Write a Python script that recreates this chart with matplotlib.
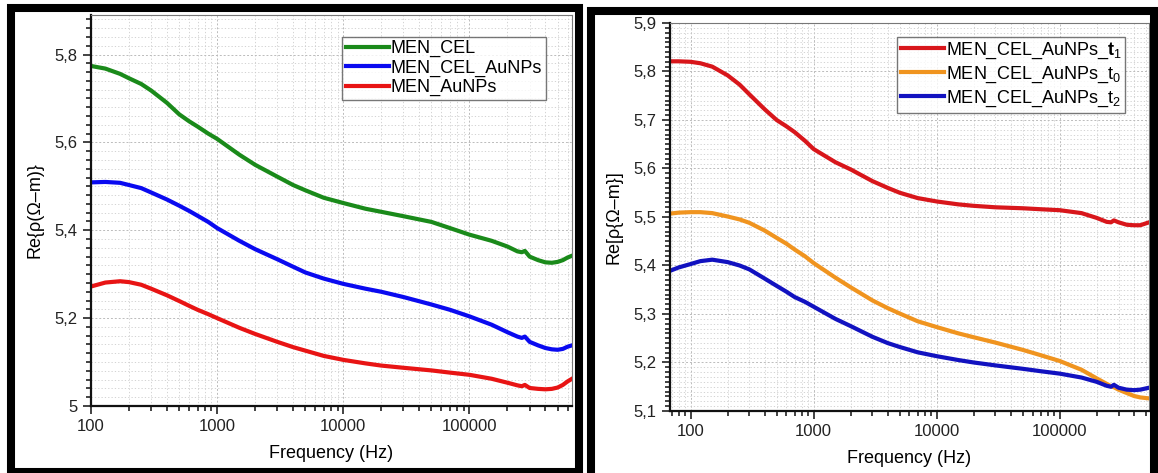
import numpy as np
import matplotlib
matplotlib.use('Agg')
import matplotlib.pyplot as plt
from matplotlib.patches import Rectangle
from matplotlib.ticker import FuncFormatter, MultipleLocator, LogLocator, NullFormatter

plt.rcParams['font.family'] = ['Liberation Sans', 'DejaVu Sans']
plt.rcParams['mathtext.fontset'] = 'custom'
plt.rcParams['mathtext.rm'] = 'Liberation Sans'
plt.rcParams['mathtext.bf'] = 'Liberation Sans:bold'
plt.rcParams['mathtext.it'] = 'Liberation Sans:italic'

# left panel: three samples
freq_a = [100, 130, 170, 200, 250, 300, 400, 500, 600, 700, 850, 1000, 1500, 2000,
          3000, 4000, 5000, 7000, 10000, 15000, 20000, 30000, 50000, 70000, 100000,
          150000, 200000, 240000, 260000, 275000, 300000, 350000, 400000, 450000,
          500000, 550000, 600000, 650000]
men_cel = [5.774, 5.768, 5.756, 5.746, 5.733, 5.718, 5.690, 5.664, 5.648, 5.636, 5.620,
           5.608, 5.572, 5.549, 5.522, 5.503, 5.491, 5.474, 5.462, 5.449, 5.442, 5.432,
           5.419, 5.405, 5.390, 5.376, 5.363, 5.352, 5.350, 5.353, 5.340, 5.332, 5.327,
           5.326, 5.328, 5.332, 5.338, 5.342]
men_cel_aunps = [5.509, 5.510, 5.508, 5.503, 5.496, 5.486, 5.470, 5.456, 5.444, 5.433,
                 5.419, 5.405, 5.376, 5.357, 5.334, 5.317, 5.304, 5.290, 5.278, 5.267,
                 5.260, 5.248, 5.231, 5.219, 5.204, 5.185, 5.168, 5.158, 5.155, 5.158,
                 5.146, 5.138, 5.132, 5.129, 5.128, 5.130, 5.135, 5.138]
men_aunps = [5.272, 5.281, 5.284, 5.282, 5.276, 5.267, 5.252, 5.239, 5.228, 5.219, 5.209,
             5.200, 5.178, 5.164, 5.146, 5.134, 5.126, 5.114, 5.105, 5.097, 5.092, 5.087,
             5.081, 5.076, 5.071, 5.062, 5.053, 5.047, 5.045, 5.048, 5.041, 5.039, 5.038,
             5.039, 5.042, 5.048, 5.056, 5.062]

# right panel: MEN_CEL_AuNPs at three times
freq_b = [68, 80, 100, 120, 150, 200, 250, 300, 400, 500, 600, 700, 850, 1000, 1500,
          2000, 3000, 4000, 5000, 7000, 10000, 15000, 20000, 30000, 50000, 70000,
          100000, 150000, 200000, 240000, 260000, 275000, 300000, 350000, 400000,
          450000, 530000]
t1 = [5.821, 5.821, 5.820, 5.817, 5.810, 5.792, 5.773, 5.753, 5.722, 5.700, 5.687,
      5.675, 5.657, 5.640, 5.613, 5.598, 5.574, 5.560, 5.550, 5.539, 5.532, 5.526,
      5.523, 5.520, 5.518, 5.516, 5.514, 5.508, 5.498, 5.490, 5.489, 5.493, 5.489,
      5.484, 5.483, 5.483, 5.489]
t0 = [5.507, 5.509, 5.510, 5.510, 5.508, 5.501, 5.495, 5.488, 5.472, 5.457, 5.445,
      5.433, 5.419, 5.405, 5.375, 5.355, 5.328, 5.312, 5.301, 5.285, 5.273, 5.260,
      5.252, 5.241, 5.226, 5.215, 5.203, 5.185, 5.167, 5.156, 5.151, 5.149, 5.144,
      5.137, 5.131, 5.128, 5.126]
t2 = [5.389, 5.396, 5.403, 5.409, 5.412, 5.407, 5.400, 5.392, 5.373, 5.358, 5.346,
      5.335, 5.325, 5.315, 5.290, 5.275, 5.253, 5.240, 5.232, 5.221, 5.213, 5.205,
      5.200, 5.194, 5.187, 5.182, 5.177, 5.169, 5.160, 5.152, 5.150, 5.154, 5.148,
      5.144, 5.143, 5.144, 5.148]

W, H = 1158, 473
fig = plt.figure(figsize=(W / 100, H / 100), dpi=100)
fig.patch.set_facecolor('white')


def px_axes(x0, x1, top, bottom):
    return fig.add_axes([x0 / W, (H - bottom) / H, (x1 - x0) / W, (bottom - top) / H])


def comma(v, pos):
    s = ('%.1f' % v).replace('.', ',')
    return s[:-2] if s.endswith(',0') else s


def style(ax, xlim, ylim, minor):
    ax.set_xscale('log')
    ax.set_xlim(*xlim)
    ax.set_ylim(*ylim)
    ax.xaxis.set_major_locator(LogLocator(base=10, numticks=10))
    ax.xaxis.set_minor_locator(LogLocator(base=10, subs=np.arange(2, 10), numticks=20))
    ax.xaxis.set_minor_formatter(NullFormatter())
    ax.xaxis.set_major_formatter(FuncFormatter(lambda v, p: '%d' % round(v)))
    ax.yaxis.set_minor_locator(MultipleLocator(minor))
    ax.yaxis.set_major_formatter(FuncFormatter(comma))
    ax.tick_params(which='both', direction='out', top=False, right=False,
                   labelsize=12, width=1.2, colors='#222222')
    ax.tick_params(which='major', length=6)
    ax.tick_params(which='minor', length=3.5)
    for side in ('left', 'bottom'):
        ax.spines[side].set_linewidth(1.6)
        ax.spines[side].set_color('#111111')
    for side in ('top', 'right'):
        ax.spines[side].set_linewidth(0.8)
        ax.spines[side].set_color('#777777')
    ax.grid(which='major', color='#bbbbbb', linestyle=(0, (2, 2)), linewidth=0.7)
    ax.grid(which='minor', color='#cccccc', linestyle=(0, (1.5, 2.5)), linewidth=0.6)
    ax.set_axisbelow(True)
    ax.set_xlabel('Frequency (Hz)', fontsize=13, labelpad=8)


ax1 = px_axes(91, 572, 15, 406)
ax1.plot(freq_a, men_cel, color='#1a8a1a', lw=3, label='MEN_CEL')
ax1.plot(freq_a, men_cel_aunps, color='#0a0af0', lw=3, label='MEN_CEL_AuNPs')
ax1.plot(freq_a, men_aunps, color='#e81414', lw=3, label='MEN_AuNPs')
style(ax1, (100, 6.5e5), (5.0, 5.89), 0.02)
ax1.yaxis.set_major_locator(MultipleLocator(0.2))
ax1.set_ylabel('Re{ρ(Ω–m)}', fontsize=13, labelpad=8)
leg1 = ax1.legend(loc='upper left', bbox_to_anchor=(0.522, 0.945), fontsize=13,
                  frameon=True, fancybox=False, borderpad=0.2, labelspacing=0.12,
                  handlelength=2.4, handletextpad=0.1, borderaxespad=0)
leg1.get_frame().set_edgecolor('#555555')
leg1.get_frame().set_linewidth(1.0)

ax2 = px_axes(670, 1149, 23, 411)
ax2.plot(freq_b, t1, color='#d8161b', lw=3, label=r'MEN_CEL_AuNPs_$\mathbf{t}_1$')
ax2.plot(freq_b, t0, color='#f0941f', lw=3, label=r'MEN_CEL_AuNPs_$\mathrm{t}_0$')
ax2.plot(freq_b, t2, color='#1212c0', lw=3, label=r'MEN_CEL_AuNPs_$\mathrm{t}_2$')
style(ax2, (68, 5.3e5), (5.1, 5.9), 0.01)
ax2.yaxis.set_major_locator(MultipleLocator(0.1))
ax2.set_ylabel('Re[ρ{Ω–m}]', fontsize=13, labelpad=8)
leg2 = ax2.legend(loc='upper left', bbox_to_anchor=(0.474, 0.964), fontsize=13,
                  frameon=True, fancybox=False, borderpad=0.2, labelspacing=0.2,
                  handlelength=2.4, handletextpad=0.1, borderaxespad=0)
leg2.get_frame().set_edgecolor('#555555')
leg2.get_frame().set_linewidth(1.0)

# thick black frames around each panel
for x0, y0, x1, y1 in [(11, 8, 579, 472), (591, 11, 1154, 476)]:
    fig.add_artist(Rectangle((x0 / W, (H - y1) / H), (x1 - x0) / W, (y1 - y0) / H,
                             transform=fig.transFigure, fill=False,
                             edgecolor='black', linewidth=5.8, zorder=10))

fig.savefig('out.png', dpi=100)
